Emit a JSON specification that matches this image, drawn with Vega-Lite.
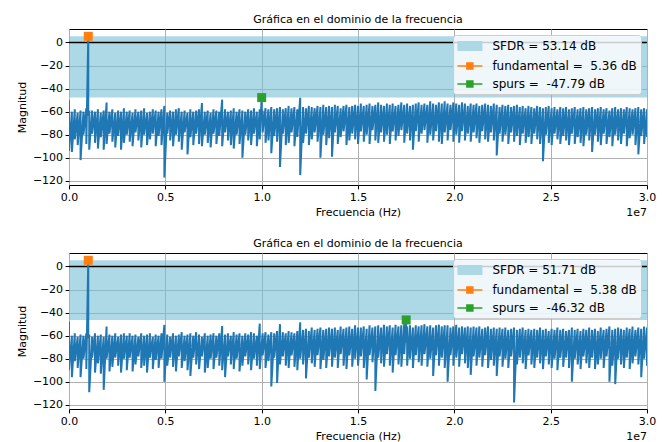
{
"$schema":"https://vega.github.io/schema/vega-lite/v6.json",
"background":"white",
"padding":{"left":15,"top":13,"right":5,"bottom":5},
"spacing":18,
"resolve":{"scale":{"color":"independent","fill":"independent","stroke":"independent","shape":"independent"},"legend":{"fill":"independent","stroke":"independent","shape":"independent"}},
"config":{
"font":"DejaVu Sans",
"view":{"stroke":"#000000","strokeWidth":1},
"axis":{"domain":false,"grid":true,"gridColor":"#b0b0b0","gridWidth":1,"tickColor":"#000000","tickSize":3.9,"tickWidth":1,"labelFont":"DejaVu Sans","labelFontSize":11,"labelColor":"#000000","labelPadding":2.5,"titleFont":"DejaVu Sans","titleFontSize":11,"titleFontWeight":"normal","titleColor":"#000000","titlePadding":4,"labelFlush":false,"labelOverlap":false},
"axisY":{"titlePadding":5},
"title":{"font":"DejaVu Sans","fontSize":11,"fontWeight":"normal","color":"#000000","offset":4},
"legend":{"labelFont":"DejaVu Sans","labelFontSize":12,"labelColor":"#000000"}
},
"datasets":{
"specA":[
{"f":0,"hi":-50,"lo":-94},{"f":150000,"hi":-60,"lo":-95},{"f":300000,"hi":-58,"lo":-84},{"f":450000,"hi":-61,"lo":-89},{"f":600000,"hi":-59,"lo":-102},{"f":750000,"hi":-60,"lo":-80},{"f":900000,"hi":-57,"lo":-88},{"f":1050000,"hi":-61,"lo":-93},{"f":1200000,"hi":-59,"lo":-79},{"f":1350000,"hi":-60,"lo":-87},
{"f":1500000,"hi":-58,"lo":-92},{"f":1650000,"hi":-61,"lo":-82},{"f":1800000,"hi":-59,"lo":-93},{"f":1950000,"hi":-52,"lo":-88},{"f":2100000,"hi":-60,"lo":-79},{"f":2250000,"hi":-58,"lo":-86},{"f":2400000,"hi":-61,"lo":-91},{"f":2550000,"hi":-59,"lo":-81},{"f":2700000,"hi":-60,"lo":-93},{"f":2850000,"hi":-57,"lo":-87},
{"f":3000000,"hi":-60,"lo":-80},{"f":3150000,"hi":-59,"lo":-86},{"f":3300000,"hi":-61,"lo":-90},{"f":3450000,"hi":-58,"lo":-78},{"f":3600000,"hi":-60,"lo":-85},{"f":3750000,"hi":-59,"lo":-91},{"f":3900000,"hi":-57,"lo":-80},{"f":4050000,"hi":-61,"lo":-89},{"f":4200000,"hi":-60,"lo":-84},{"f":4350000,"hi":-58,"lo":-79},
{"f":4500000,"hi":-59,"lo":-90},{"f":4650000,"hi":-60,"lo":-81},{"f":4800000,"hi":-58,"lo":-89},{"f":4950000,"hi":-55,"lo":-117},{"f":5100000,"hi":-61,"lo":-79},{"f":5250000,"hi":-59,"lo":-85},{"f":5400000,"hi":-60,"lo":-90},{"f":5550000,"hi":-58,"lo":-80},{"f":5700000,"hi":-57,"lo":-86},{"f":5850000,"hi":-60,"lo":-93},
{"f":6000000,"hi":-59,"lo":-78},{"f":6150000,"hi":-61,"lo":-97},{"f":6300000,"hi":-58,"lo":-82},{"f":6450000,"hi":-60,"lo":-89},{"f":6600000,"hi":-59,"lo":-79},{"f":6750000,"hi":-58,"lo":-88},{"f":6900000,"hi":-52.5,"lo":-90},{"f":7050000,"hi":-60,"lo":-80},{"f":7200000,"hi":-59,"lo":-87},{"f":7350000,"hi":-61,"lo":-91},
{"f":7500000,"hi":-58,"lo":-79},{"f":7650000,"hi":-59,"lo":-88},{"f":7800000,"hi":-60,"lo":-81},{"f":7950000,"hi":-49.6,"lo":-90},{"f":8100000,"hi":-58,"lo":-78},{"f":8250000,"hi":-60,"lo":-85},{"f":8400000,"hi":-59,"lo":-89},{"f":8550000,"hi":-57,"lo":-92},{"f":8700000,"hi":-60,"lo":-80},{"f":8850000,"hi":-58,"lo":-88},
{"f":9000000,"hi":-59,"lo":-100},{"f":9150000,"hi":-60,"lo":-80},{"f":9300000,"hi":-58,"lo":-85},{"f":9450000,"hi":-59,"lo":-89},{"f":9600000,"hi":-57,"lo":-79},{"f":9750000,"hi":-60,"lo":-90},{"f":9900000,"hi":-58,"lo":-84},{"f":10050000,"hi":-59,"lo":-78},{"f":10200000,"hi":-57,"lo":-87},{"f":10350000,"hi":-58,"lo":-85},
{"f":10500000,"hi":-56,"lo":-96},{"f":10650000,"hi":-58,"lo":-81},{"f":10800000,"hi":-57,"lo":-86},{"f":10950000,"hi":-56,"lo":-108},{"f":11100000,"hi":-58,"lo":-79},{"f":11250000,"hi":-57,"lo":-89},{"f":11400000,"hi":-55,"lo":-87},{"f":11550000,"hi":-57,"lo":-78},{"f":11700000,"hi":-56,"lo":-90},{"f":11850000,"hi":-58,"lo":-82},
{"f":12000000,"hi":-48,"lo":-115},{"f":12150000,"hi":-56,"lo":-87},{"f":12300000,"hi":-57,"lo":-79},{"f":12450000,"hi":-55,"lo":-89},{"f":12600000,"hi":-56,"lo":-84},{"f":12750000,"hi":-57,"lo":-78},{"f":12900000,"hi":-55,"lo":-86},{"f":13050000,"hi":-56,"lo":-100},{"f":13200000,"hi":-54,"lo":-80},{"f":13350000,"hi":-56,"lo":-89},
{"f":13500000,"hi":-55,"lo":-83},{"f":13650000,"hi":-56,"lo":-99},{"f":13800000,"hi":-54,"lo":-78},{"f":13950000,"hi":-55,"lo":-88},{"f":14100000,"hi":-57,"lo":-82},{"f":14250000,"hi":-55,"lo":-77},{"f":14400000,"hi":-54,"lo":-89},{"f":14550000,"hi":-56,"lo":-85},{"f":14700000,"hi":-55,"lo":-79},{"f":14850000,"hi":-54,"lo":-84},
{"f":15000000,"hi":-55,"lo":-88},{"f":15150000,"hi":-53,"lo":-77},{"f":15300000,"hi":-55,"lo":-86},{"f":15450000,"hi":-54,"lo":-80},{"f":15600000,"hi":-53,"lo":-88},{"f":15750000,"hi":-55,"lo":-76},{"f":15900000,"hi":-54,"lo":-85},{"f":16050000,"hi":-52,"lo":-87},{"f":16200000,"hi":-54,"lo":-78},{"f":16350000,"hi":-55,"lo":-86},
{"f":16500000,"hi":-53,"lo":-80},{"f":16650000,"hi":-54,"lo":-88},{"f":16800000,"hi":-53,"lo":-77},{"f":16950000,"hi":-55,"lo":-85},{"f":17100000,"hi":-54,"lo":-81},{"f":17250000,"hi":-52,"lo":-76},{"f":17400000,"hi":-54,"lo":-87},{"f":17550000,"hi":-53,"lo":-79},{"f":17700000,"hi":-55,"lo":-85},{"f":17850000,"hi":-54,"lo":-93},
{"f":18000000,"hi":-53,"lo":-77},{"f":18150000,"hi":-52,"lo":-86},{"f":18300000,"hi":-54,"lo":-79},{"f":18450000,"hi":-53,"lo":-76},{"f":18600000,"hi":-54,"lo":-87},{"f":18750000,"hi":-51,"lo":-80},{"f":18900000,"hi":-53,"lo":-85},{"f":19050000,"hi":-54,"lo":-77},{"f":19200000,"hi":-52,"lo":-86},{"f":19350000,"hi":-53,"lo":-88},
{"f":19500000,"hi":-51,"lo":-78},{"f":19650000,"hi":-53,"lo":-85},{"f":19800000,"hi":-54,"lo":-76},{"f":19950000,"hi":-52,"lo":-86},{"f":20100000,"hi":-53,"lo":-80},{"f":20250000,"hi":-54,"lo":-87},{"f":20400000,"hi":-52,"lo":-77},{"f":20550000,"hi":-53,"lo":-85},{"f":20700000,"hi":-55,"lo":-79},{"f":20850000,"hi":-53,"lo":-86},
{"f":21000000,"hi":-54,"lo":-78},{"f":21150000,"hi":-53,"lo":-83},{"f":21300000,"hi":-55,"lo":-87},{"f":21450000,"hi":-54,"lo":-77},{"f":21600000,"hi":-53,"lo":-84},{"f":21750000,"hi":-54,"lo":-86},{"f":21900000,"hi":-55,"lo":-78},{"f":22050000,"hi":-53,"lo":-85},{"f":22200000,"hi":-54,"lo":-98},{"f":22350000,"hi":-56,"lo":-79},
{"f":22500000,"hi":-54,"lo":-86},{"f":22650000,"hi":-55,"lo":-80},{"f":22800000,"hi":-54,"lo":-88},{"f":22950000,"hi":-56,"lo":-78},{"f":23100000,"hi":-55,"lo":-86},{"f":23250000,"hi":-54,"lo":-81},{"f":23400000,"hi":-56,"lo":-89},{"f":23550000,"hi":-55,"lo":-79},{"f":23700000,"hi":-57,"lo":-87},{"f":23850000,"hi":-55,"lo":-82},
{"f":24000000,"hi":-56,"lo":-88},{"f":24150000,"hi":-57,"lo":-79},{"f":24300000,"hi":-55,"lo":-84},{"f":24450000,"hi":-56,"lo":-88},{"f":24600000,"hi":-57,"lo":-103},{"f":24750000,"hi":-56,"lo":-80},{"f":24900000,"hi":-55,"lo":-87},{"f":25050000,"hi":-57,"lo":-89},{"f":25200000,"hi":-56,"lo":-79},{"f":25350000,"hi":-58,"lo":-84},
{"f":25500000,"hi":-56,"lo":-88},{"f":25650000,"hi":-57,"lo":-81},{"f":25800000,"hi":-56,"lo":-85},{"f":25950000,"hi":-58,"lo":-89},{"f":26100000,"hi":-57,"lo":-79},{"f":26250000,"hi":-56,"lo":-88},{"f":26400000,"hi":-58,"lo":-82},{"f":26550000,"hi":-57,"lo":-87},{"f":26700000,"hi":-56,"lo":-90},{"f":26850000,"hi":-58,"lo":-80},
{"f":27000000,"hi":-57,"lo":-85},{"f":27150000,"hi":-56,"lo":-95},{"f":27300000,"hi":-58,"lo":-80},{"f":27450000,"hi":-57,"lo":-86},{"f":27600000,"hi":-56,"lo":-89},{"f":27750000,"hi":-58,"lo":-79},{"f":27900000,"hi":-57,"lo":-88},{"f":28050000,"hi":-59,"lo":-82},{"f":28200000,"hi":-57,"lo":-90},{"f":28350000,"hi":-56,"lo":-80},
{"f":28500000,"hi":-58,"lo":-85},{"f":28650000,"hi":-57,"lo":-88},{"f":28800000,"hi":-58,"lo":-79},{"f":28950000,"hi":-56,"lo":-90},{"f":29100000,"hi":-57,"lo":-83},{"f":29250000,"hi":-58,"lo":-80},{"f":29400000,"hi":-57,"lo":-89},{"f":29550000,"hi":-56,"lo":-97},{"f":29700000,"hi":-58,"lo":-81},{"f":29850000,"hi":-57,"lo":-88},
{"f":30000000,"hi":-58,"lo":-82},
{"f":1000000,"hi":5.36,"lo":-62},{"f":10000000,"hi":-47.79,"lo":-66}
],
"specB":[
{"f":0,"hi":-48,"lo":-90},{"f":150000,"hi":-60,"lo":-96},{"f":300000,"hi":-58,"lo":-82},{"f":450000,"hi":-61,"lo":-88},{"f":600000,"hi":-59,"lo":-96},{"f":750000,"hi":-60,"lo":-80},{"f":900000,"hi":-58,"lo":-89},{"f":1050000,"hi":-59,"lo":-109},{"f":1200000,"hi":-61,"lo":-79},{"f":1350000,"hi":-58,"lo":-92},
{"f":1500000,"hi":-60,"lo":-84},{"f":1650000,"hi":-59,"lo":-93},{"f":1800000,"hi":-61,"lo":-107},{"f":1950000,"hi":-52,"lo":-80},{"f":2100000,"hi":-59,"lo":-91},{"f":2250000,"hi":-60,"lo":-87},{"f":2400000,"hi":-58,"lo":-79},{"f":2550000,"hi":-61,"lo":-86},{"f":2700000,"hi":-59,"lo":-92},{"f":2850000,"hi":-58,"lo":-80},
{"f":3000000,"hi":-60,"lo":-90},{"f":3150000,"hi":-58,"lo":-79},{"f":3300000,"hi":-60,"lo":-91},{"f":3450000,"hi":-59,"lo":-85},{"f":3600000,"hi":-61,"lo":-78},{"f":3750000,"hi":-58,"lo":-88},{"f":3900000,"hi":-60,"lo":-86},{"f":4050000,"hi":-59,"lo":-92},{"f":4200000,"hi":-58,"lo":-79},{"f":4350000,"hi":-61,"lo":-89},
{"f":4500000,"hi":-59,"lo":-81},{"f":4650000,"hi":-60,"lo":-88},{"f":4800000,"hi":-58,"lo":-80},{"f":4950000,"hi":-50.7,"lo":-100},{"f":5100000,"hi":-59,"lo":-86},{"f":5250000,"hi":-61,"lo":-79},{"f":5400000,"hi":-58,"lo":-87},{"f":5550000,"hi":-60,"lo":-91},{"f":5700000,"hi":-59,"lo":-78},{"f":5850000,"hi":-57,"lo":-88},
{"f":6000000,"hi":-60,"lo":-82},{"f":6150000,"hi":-59,"lo":-90},{"f":6300000,"hi":-58,"lo":-95},{"f":6450000,"hi":-60,"lo":-79},{"f":6600000,"hi":-57,"lo":-85},{"f":6750000,"hi":-59,"lo":-89},{"f":6900000,"hi":-61,"lo":-78},{"f":7050000,"hi":-58,"lo":-92},{"f":7200000,"hi":-60,"lo":-88},{"f":7350000,"hi":-59,"lo":-80},
{"f":7500000,"hi":-58,"lo":-89},{"f":7650000,"hi":-60,"lo":-79},{"f":7800000,"hi":-58,"lo":-86},{"f":7950000,"hi":-51.6,"lo":-90},{"f":8100000,"hi":-59,"lo":-96},{"f":8250000,"hi":-58,"lo":-78},{"f":8400000,"hi":-60,"lo":-85},{"f":8550000,"hi":-57,"lo":-89},{"f":8700000,"hi":-59,"lo":-80},{"f":8850000,"hi":-58,"lo":-91},
{"f":9000000,"hi":-60,"lo":-86},{"f":9150000,"hi":-58,"lo":-78},{"f":9300000,"hi":-59,"lo":-85},{"f":9450000,"hi":-57,"lo":-90},{"f":9600000,"hi":-58,"lo":-80},{"f":9750000,"hi":-60,"lo":-86},{"f":9900000,"hi":-49.6,"lo":-89},{"f":10050000,"hi":-58,"lo":-77},{"f":10200000,"hi":-57,"lo":-88},{"f":10350000,"hi":-59,"lo":-82},
{"f":10500000,"hi":-57,"lo":-104},{"f":10650000,"hi":-58,"lo":-79},{"f":10800000,"hi":-56,"lo":-101},{"f":10950000,"hi":-50,"lo":-85},{"f":11100000,"hi":-57,"lo":-78},{"f":11250000,"hi":-58,"lo":-86},{"f":11400000,"hi":-56,"lo":-88},{"f":11550000,"hi":-57,"lo":-77},{"f":11700000,"hi":-58,"lo":-87},{"f":11850000,"hi":-56,"lo":-90},
{"f":12000000,"hi":-48.4,"lo":-80},{"f":12150000,"hi":-55,"lo":-85},{"f":12300000,"hi":-54,"lo":-97},{"f":12450000,"hi":-56,"lo":-79},{"f":12600000,"hi":-53,"lo":-84},{"f":12750000,"hi":-55,"lo":-87},{"f":12900000,"hi":-54,"lo":-77},{"f":13050000,"hi":-53,"lo":-89},{"f":13200000,"hi":-55,"lo":-81},{"f":13350000,"hi":-54,"lo":-88},
{"f":13500000,"hi":-53,"lo":-78},{"f":13650000,"hi":-54,"lo":-87},{"f":13800000,"hi":-53,"lo":-79},{"f":13950000,"hi":-55,"lo":-88},{"f":14100000,"hi":-52,"lo":-76},{"f":14250000,"hi":-54,"lo":-86},{"f":14400000,"hi":-53,"lo":-89},{"f":14550000,"hi":-52,"lo":-77},{"f":14700000,"hi":-54,"lo":-87},{"f":14850000,"hi":-51,"lo":-80},
{"f":15000000,"hi":-53,"lo":-86},{"f":15150000,"hi":-53,"lo":-78},{"f":15300000,"hi":-52,"lo":-88},{"f":15450000,"hi":-54,"lo":-98},{"f":15600000,"hi":-51,"lo":-77},{"f":15750000,"hi":-53,"lo":-83},{"f":15900000,"hi":-52,"lo":-108},{"f":16050000,"hi":-51,"lo":-79},{"f":16200000,"hi":-53,"lo":-84},{"f":16350000,"hi":-50.5,"lo":-87},
{"f":16500000,"hi":-52,"lo":-76},{"f":16650000,"hi":-51,"lo":-86},{"f":16800000,"hi":-53,"lo":-92},{"f":16950000,"hi":-50.5,"lo":-77},{"f":17100000,"hi":-52,"lo":-85},{"f":17250000,"hi":-51,"lo":-87},{"f":17400000,"hi":-50,"lo":-76},{"f":17550000,"hi":-52,"lo":-86},{"f":17700000,"hi":-51,"lo":-80},{"f":17850000,"hi":-53,"lo":-88},
{"f":18000000,"hi":-51,"lo":-77},{"f":18150000,"hi":-52,"lo":-83},{"f":18300000,"hi":-51,"lo":-86},{"f":18450000,"hi":-50,"lo":-76},{"f":18600000,"hi":-52,"lo":-87},{"f":18750000,"hi":-51,"lo":-80},{"f":18900000,"hi":-53,"lo":-95},{"f":19050000,"hi":-51,"lo":-77},{"f":19200000,"hi":-50.5,"lo":-86},{"f":19350000,"hi":-52,"lo":-79},
{"f":19500000,"hi":-51,"lo":-88},{"f":19650000,"hi":-51,"lo":-100},{"f":19800000,"hi":-53,"lo":-77},{"f":19950000,"hi":-52,"lo":-86},{"f":20100000,"hi":-50.5,"lo":-79},{"f":20250000,"hi":-53,"lo":-87},{"f":20400000,"hi":-52,"lo":-76},{"f":20550000,"hi":-53,"lo":-84},{"f":20700000,"hi":-52,"lo":-88},{"f":20850000,"hi":-53,"lo":-94},
{"f":21000000,"hi":-52,"lo":-78},{"f":21150000,"hi":-53,"lo":-86},{"f":21300000,"hi":-52,"lo":-79},{"f":21450000,"hi":-54,"lo":-87},{"f":21600000,"hi":-53,"lo":-77},{"f":21750000,"hi":-52,"lo":-88},{"f":21900000,"hi":-54,"lo":-81},{"f":22050000,"hi":-53,"lo":-86},{"f":22200000,"hi":-54,"lo":-95},{"f":22350000,"hi":-53,"lo":-78},
{"f":22500000,"hi":-54,"lo":-87},{"f":22650000,"hi":-53,"lo":-80},{"f":22800000,"hi":-55,"lo":-88},{"f":22950000,"hi":-54,"lo":-78},{"f":23100000,"hi":-53,"lo":-118},{"f":23250000,"hi":-55,"lo":-85},{"f":23400000,"hi":-54,"lo":-79},{"f":23550000,"hi":-53,"lo":-84},{"f":23700000,"hi":-55,"lo":-89},{"f":23850000,"hi":-54,"lo":-77},
{"f":24000000,"hi":-55,"lo":-85},{"f":24150000,"hi":-54,"lo":-88},{"f":24300000,"hi":-55,"lo":-79},{"f":24450000,"hi":-53,"lo":-84},{"f":24600000,"hi":-55,"lo":-89},{"f":24750000,"hi":-54,"lo":-78},{"f":24900000,"hi":-56,"lo":-85},{"f":25050000,"hi":-54,"lo":-88},{"f":25200000,"hi":-55,"lo":-80},{"f":25350000,"hi":-53,"lo":-90},
{"f":25500000,"hi":-55,"lo":-79},{"f":25650000,"hi":-54,"lo":-87},{"f":25800000,"hi":-56,"lo":-79},{"f":25950000,"hi":-55,"lo":-88},{"f":26100000,"hi":-53,"lo":-100},{"f":26250000,"hi":-55,"lo":-80},{"f":26400000,"hi":-54,"lo":-85},{"f":26550000,"hi":-56,"lo":-89},{"f":26700000,"hi":-54,"lo":-78},{"f":26850000,"hi":-55,"lo":-84},
{"f":27000000,"hi":-53,"lo":-88},{"f":27150000,"hi":-55,"lo":-79},{"f":27300000,"hi":-54,"lo":-89},{"f":27450000,"hi":-56,"lo":-85},{"f":27600000,"hi":-53,"lo":-80},{"f":27750000,"hi":-55,"lo":-88},{"f":27900000,"hi":-54,"lo":-78},{"f":28050000,"hi":-52,"lo":-100},{"f":28200000,"hi":-55,"lo":-86},{"f":28350000,"hi":-54,"lo":-102},
{"f":28500000,"hi":-53,"lo":-80},{"f":28650000,"hi":-54,"lo":-85},{"f":28800000,"hi":-55,"lo":-88},{"f":28950000,"hi":-53,"lo":-79},{"f":29100000,"hi":-54,"lo":-89},{"f":29250000,"hi":-52,"lo":-84},{"f":29400000,"hi":-55,"lo":-78},{"f":29550000,"hi":-53,"lo":-85},{"f":29700000,"hi":-54,"lo":-96},{"f":29850000,"hi":-52,"lo":-80},
{"f":30000000,"hi":-53,"lo":-86},
{"f":1000000,"hi":5.38,"lo":-62},{"f":17500000,"hi":-46.32,"lo":-66}
],
"markA":[{"f":1000000,"m":5.36,"label":"fundamental = \u00a05.36 dB"},{"f":10000000,"m":-47.79,"label":"spurs = \u00a0-47.79 dB"}],
"markB":[{"f":1000000,"m":5.38,"label":"fundamental = \u00a05.38 dB"},{"f":17500000,"m":-46.32,"label":"spurs = \u00a0-46.32 dB"}]
},
"vconcat":[
{
"width":578,"height":156,
"title":{"text":"Gráfica en el dominio de la frecuencia"},
"layer":[
{"data":{"values":[{"label":"SFDR = 53.14 dB","m":5.36,"m2":-47.79}]},"mark":{"type":"rect","color":"#76bed5","opacity":0.6},
"encoding":{"y":{"field":"m","type":"quantitative","scale":{"domain":[-123.6,11.7],"nice":false,"zero":false},"axis":{"title":"Magnitud","values":[-120,-100,-80,-60,-40,-20,0],"labelOverlap":false}},"y2":{"field":"m2"}}},
{"data":{"values":[{"m":0}]},"mark":{"type":"rule","color":"#000000","strokeWidth":1.3},"encoding":{"y":{"field":"m","type":"quantitative","scale":{"domain":[-123.6,11.7],"nice":false,"zero":false},"axis":{"title":"Magnitud","values":[-120,-100,-80,-60,-40,-20,0],"labelOverlap":false}}}},
{"data":{"name":"specA"},"transform":[{"fold":["hi","lo"],"as":["k","m"]}],
"mark":{"type":"line","color":"#1f77b4","strokeWidth":2,"clip":true},
"encoding":{
"x":{"field":"f","type":"quantitative","scale":{"domain":[0,30000000],"nice":false,"zero":false},"axis":{"title":"Frecuencia (Hz)","values":[0,5000000,10000000,15000000,20000000,25000000,30000000],"labelExpr":"format(datum.value/10000000,'.1f')","labelOverlap":false}},
"y":{"field":"m","type":"quantitative","scale":{"domain":[-123.6,11.7],"nice":false,"zero":false},"axis":{"title":"Magnitud","values":[-120,-100,-80,-60,-40,-20,0],"labelOverlap":false}}}},
{"data":{"name":"markA"},
"mark":{"type":"point","shape":"square","filled":true,"size":81,"opacity":1},
"encoding":{
"x":{"field":"f","type":"quantitative","scale":{"domain":[0,30000000],"nice":false,"zero":false},"axis":{"title":"Frecuencia (Hz)","values":[0,5000000,10000000,15000000,20000000,25000000,30000000],"labelExpr":"format(datum.value/10000000,'.1f')","labelOverlap":false}},
"y":{"field":"m","type":"quantitative","scale":{"domain":[-123.6,11.7],"nice":false,"zero":false},"axis":{"title":"Magnitud","values":[-120,-100,-80,-60,-40,-20,0],"labelOverlap":false}},
"color":{"field":"label","type":"nominal","scale":{"domain":["fundamental = \u00a05.36 dB","spurs = \u00a0-47.79 dB"],"range":["#ff7f0e","#2ca02c"]},"legend":null}}},
{"data":{"name":"markA"},
"mark":{"type":"point","filled":true,"size":81,"opacity":0},
"encoding":{
"x":{"field":"f","type":"quantitative","scale":{"domain":[0,30000000],"nice":false,"zero":false},"axis":{"title":"Frecuencia (Hz)","values":[0,5000000,10000000,15000000,20000000,25000000,30000000],"labelExpr":"format(datum.value/10000000,'.1f')","labelOverlap":false}},
"y":{"field":"m","type":"quantitative","scale":{"domain":[-123.6,11.7],"nice":false,"zero":false},"axis":{"title":"Magnitud","values":[-120,-100,-80,-60,-40,-20,0],"labelOverlap":false}},
"fill":{"field":"label","type":"nominal","scale":{"domain":["SFDR = 53.14 dB","fundamental = \u00a05.36 dB","spurs = \u00a0-47.79 dB"],"range":["#add8e6","#ff7f0e","#2ca02c"]},
"legend":{"title":null,"orient":"top-right","offset":6,"padding":4,"rowPadding":5,"symbolSize":144,"symbolStrokeWidth":1.5,"symbolOpacity":1,"labelOffset":21.4,"fillColor":"rgba(255,255,255,0.8)","strokeColor":"#cccccc","cornerRadius":3,"labelLimit":400}},
"stroke":{"field":"label","type":"nominal","scale":{"domain":["SFDR = 53.14 dB","fundamental = \u00a05.36 dB","spurs = \u00a0-47.79 dB"],"range":["#add8e6","#ff7f0e","#2ca02c"]},
"legend":{"title":null,"orient":"top-right","offset":6,"padding":4,"rowPadding":5,"symbolSize":144,"symbolStrokeWidth":1.5,"symbolOpacity":1,"labelOffset":21.4,"fillColor":"rgba(255,255,255,0.8)","strokeColor":"#cccccc","cornerRadius":3,"labelLimit":400}},
"shape":{"field":"label","type":"nominal","scale":{"domain":["SFDR = 53.14 dB","fundamental = \u00a05.36 dB","spurs = \u00a0-47.79 dB"],"range":["M-0.975,-0.71H2.945V0.71H-0.975Z","M-1.1,0H3.07M0.48,-0.5H1.48V0.5H0.48Z","M-1.1,0H3.07M0.48,-0.5H1.48V0.5H0.48Z"]},
"legend":{"title":null,"orient":"top-right","offset":6,"padding":4,"rowPadding":5,"symbolSize":144,"symbolStrokeWidth":1.5,"symbolOpacity":1,"labelOffset":21.4,"fillColor":"rgba(255,255,255,0.8)","strokeColor":"#cccccc","cornerRadius":3,"labelLimit":400}}}},
{"data":{"values":[{"t":"1e7"}]},"mark":{"type":"text","align":"right","baseline":"top","dy":22,"fontSize":11,"color":"#000000"},
"encoding":{
"x":{"datum":30000000,"type":"quantitative","scale":{"domain":[0,30000000],"nice":false,"zero":false},"axis":{"title":"Frecuencia (Hz)","values":[0,5000000,10000000,15000000,20000000,25000000,30000000],"labelExpr":"format(datum.value/10000000,'.1f')","labelOverlap":false}},
"y":{"datum":-123.6,"type":"quantitative","scale":{"domain":[-123.6,11.7],"nice":false,"zero":false},"axis":{"title":"Magnitud","values":[-120,-100,-80,-60,-40,-20,0],"labelOverlap":false}},
"text":{"field":"t","type":"nominal"}}}
]
},
{
"width":578,"height":156,
"title":{"text":"Gráfica en el dominio de la frecuencia"},
"layer":[
{"data":{"values":[{"label":"SFDR = 51.71 dB","m":5.38,"m2":-46.32}]},"mark":{"type":"rect","color":"#76bed5","opacity":0.6},
"encoding":{"y":{"field":"m","type":"quantitative","scale":{"domain":[-123.6,11.7],"nice":false,"zero":false},"axis":{"title":"Magnitud","values":[-120,-100,-80,-60,-40,-20,0],"labelOverlap":false}},"y2":{"field":"m2"}}},
{"data":{"values":[{"m":0}]},"mark":{"type":"rule","color":"#000000","strokeWidth":1.3},"encoding":{"y":{"field":"m","type":"quantitative","scale":{"domain":[-123.6,11.7],"nice":false,"zero":false},"axis":{"title":"Magnitud","values":[-120,-100,-80,-60,-40,-20,0],"labelOverlap":false}}}},
{"data":{"name":"specB"},"transform":[{"fold":["hi","lo"],"as":["k","m"]}],
"mark":{"type":"line","color":"#1f77b4","strokeWidth":2,"clip":true},
"encoding":{
"x":{"field":"f","type":"quantitative","scale":{"domain":[0,30000000],"nice":false,"zero":false},"axis":{"title":"Frecuencia (Hz)","values":[0,5000000,10000000,15000000,20000000,25000000,30000000],"labelExpr":"format(datum.value/10000000,'.1f')","labelOverlap":false}},
"y":{"field":"m","type":"quantitative","scale":{"domain":[-123.6,11.7],"nice":false,"zero":false},"axis":{"title":"Magnitud","values":[-120,-100,-80,-60,-40,-20,0],"labelOverlap":false}}}},
{"data":{"name":"markB"},
"mark":{"type":"point","shape":"square","filled":true,"size":81,"opacity":1},
"encoding":{
"x":{"field":"f","type":"quantitative","scale":{"domain":[0,30000000],"nice":false,"zero":false},"axis":{"title":"Frecuencia (Hz)","values":[0,5000000,10000000,15000000,20000000,25000000,30000000],"labelExpr":"format(datum.value/10000000,'.1f')","labelOverlap":false}},
"y":{"field":"m","type":"quantitative","scale":{"domain":[-123.6,11.7],"nice":false,"zero":false},"axis":{"title":"Magnitud","values":[-120,-100,-80,-60,-40,-20,0],"labelOverlap":false}},
"color":{"field":"label","type":"nominal","scale":{"domain":["fundamental = \u00a05.38 dB","spurs = \u00a0-46.32 dB"],"range":["#ff7f0e","#2ca02c"]},"legend":null}}},
{"data":{"name":"markB"},
"mark":{"type":"point","filled":true,"size":81,"opacity":0},
"encoding":{
"x":{"field":"f","type":"quantitative","scale":{"domain":[0,30000000],"nice":false,"zero":false},"axis":{"title":"Frecuencia (Hz)","values":[0,5000000,10000000,15000000,20000000,25000000,30000000],"labelExpr":"format(datum.value/10000000,'.1f')","labelOverlap":false}},
"y":{"field":"m","type":"quantitative","scale":{"domain":[-123.6,11.7],"nice":false,"zero":false},"axis":{"title":"Magnitud","values":[-120,-100,-80,-60,-40,-20,0],"labelOverlap":false}},
"fill":{"field":"label","type":"nominal","scale":{"domain":["SFDR = 51.71 dB","fundamental = \u00a05.38 dB","spurs = \u00a0-46.32 dB"],"range":["#add8e6","#ff7f0e","#2ca02c"]},
"legend":{"title":null,"orient":"top-right","offset":6,"padding":4,"rowPadding":5,"symbolSize":144,"symbolStrokeWidth":1.5,"symbolOpacity":1,"labelOffset":21.4,"fillColor":"rgba(255,255,255,0.8)","strokeColor":"#cccccc","cornerRadius":3,"labelLimit":400}},
"stroke":{"field":"label","type":"nominal","scale":{"domain":["SFDR = 51.71 dB","fundamental = \u00a05.38 dB","spurs = \u00a0-46.32 dB"],"range":["#add8e6","#ff7f0e","#2ca02c"]},
"legend":{"title":null,"orient":"top-right","offset":6,"padding":4,"rowPadding":5,"symbolSize":144,"symbolStrokeWidth":1.5,"symbolOpacity":1,"labelOffset":21.4,"fillColor":"rgba(255,255,255,0.8)","strokeColor":"#cccccc","cornerRadius":3,"labelLimit":400}},
"shape":{"field":"label","type":"nominal","scale":{"domain":["SFDR = 51.71 dB","fundamental = \u00a05.38 dB","spurs = \u00a0-46.32 dB"],"range":["M-0.975,-0.71H2.945V0.71H-0.975Z","M-1.1,0H3.07M0.48,-0.5H1.48V0.5H0.48Z","M-1.1,0H3.07M0.48,-0.5H1.48V0.5H0.48Z"]},
"legend":{"title":null,"orient":"top-right","offset":6,"padding":4,"rowPadding":5,"symbolSize":144,"symbolStrokeWidth":1.5,"symbolOpacity":1,"labelOffset":21.4,"fillColor":"rgba(255,255,255,0.8)","strokeColor":"#cccccc","cornerRadius":3,"labelLimit":400}}}},
{"data":{"values":[{"t":"1e7"}]},"mark":{"type":"text","align":"right","baseline":"top","dy":22,"fontSize":11,"color":"#000000"},
"encoding":{
"x":{"datum":30000000,"type":"quantitative","scale":{"domain":[0,30000000],"nice":false,"zero":false},"axis":{"title":"Frecuencia (Hz)","values":[0,5000000,10000000,15000000,20000000,25000000,30000000],"labelExpr":"format(datum.value/10000000,'.1f')","labelOverlap":false}},
"y":{"datum":-123.6,"type":"quantitative","scale":{"domain":[-123.6,11.7],"nice":false,"zero":false},"axis":{"title":"Magnitud","values":[-120,-100,-80,-60,-40,-20,0],"labelOverlap":false}},
"text":{"field":"t","type":"nominal"}}}
]
}
]
}
